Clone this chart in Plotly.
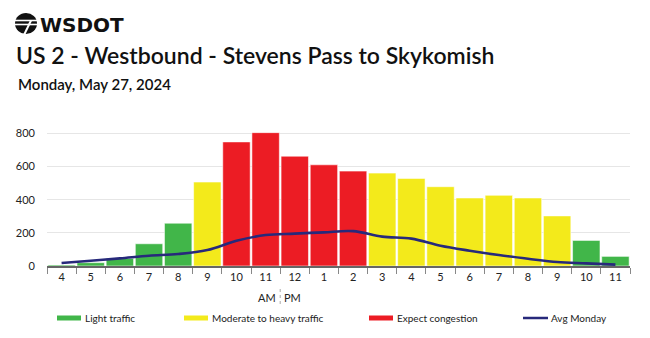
import plotly.graph_objects as go

hours = ["4", "5", "6", "7", "8", "9", "10", "11", "12", "1", "2", "3", "4", "5", "6", "7", "8", "9", "10", "11"]
volume = [6, 20, 46, 134, 258, 506, 748, 804, 662, 610, 572, 560, 528, 478, 410, 426, 410, 302, 154, 58]
level = ["L", "L", "L", "L", "L", "M", "H", "H", "H", "H", "H", "M", "M", "M", "M", "M", "M", "M", "L", "L"]
avg_monday = [18, 32, 46, 62, 72, 96, 152, 187, 195, 203, 210, 177, 165, 122, 92, 66, 44, 24, 16, 8]
y_ticks = [0, 200, 400, 600, 800]

colors = {"L": "#41b649", "M": "#f3ea1b", "H": "#ec1c24"}
names = {"L": "Light traffic", "M": "Moderate to heavy traffic", "H": "Expect congestion"}
line_color = "#27297b"

W, H = 650, 338
L, R, T, B = 47, 630, 125, 266
xs = list(range(len(hours)))

def px(x):
    return (x - L) / (R - L)

def py(y):
    return (B - y) / (B - T)

fig = go.Figure()
for k in ["L", "M", "H"]:
    fig.add_trace(go.Bar(
        x=[x for x, lv in zip(xs, level) if lv == k],
        y=[v for v, lv in zip(volume, level) if lv == k],
        marker=dict(color=colors[k], line=dict(color="rgba(255,255,255,0.55)", width=1)),
        width=0.94, name=names[k], showlegend=False, hoverinfo="skip"))

fig.add_trace(go.Scatter(x=xs, y=avg_monday, mode="lines",
                         line=dict(color=line_color, width=2.6, shape="spline", smoothing=1.0),
                         name="Avg Monday", showlegend=False))

font = "Lato, 'Open Sans', sans-serif"
ann = []
shapes = []
# Title and subtitle
ann.append(dict(x=px(14), y=py(55), xref="paper", yref="paper", xanchor="left", yanchor="middle",
                text="US 2 - Westbound - Stevens Pass to Skykomish", showarrow=False,
                font=dict(family=font, size=23, color="#111", weight=600)))
ann.append(dict(x=px(16), y=py(84), xref="paper", yref="paper", xanchor="left", yanchor="middle",
                text="Monday, May 27, 2024", showarrow=False,
                font=dict(family=font, size=15, color="#111", weight=600)))
# Logo text
ann.append(dict(x=px(38), y=py(25), xref="paper", yref="paper", xanchor="left", yanchor="middle",
                text="<b>WSDOT</b>", showarrow=False,
                font=dict(family="'DejaVu Sans', sans-serif", size=20, color="#111")))
# Logo icon
shapes.append(dict(type="circle", xref="paper", yref="paper", x0=px(15), x1=px(37), y0=py(34), y1=py(13),
                   fillcolor="#111", line=dict(width=0)))
for yy in [20.5, 24.5]:
    shapes.append(dict(type="line", xref="paper", yref="paper", x0=px(14), x1=px(38), y0=py(yy), y1=py(yy),
                       line=dict(color="white", width=1.6)))
shapes.append(dict(type="line", xref="paper", yref="paper", x0=px(31), x1=px(24), y0=py(20.5), y1=py(35),
                   line=dict(color="white", width=2)))

# AM | PM
ann.append(dict(x=7.5, y=py(297), xref="x", yref="paper", xanchor="right", yanchor="middle",
                text="AM", showarrow=False, xshift=-2, font=dict(family=font, size=11, color="#222")))
ann.append(dict(x=7.5, y=py(297), xref="x", yref="paper", xanchor="left", yanchor="middle",
                text="PM", showarrow=False, xshift=2, font=dict(family=font, size=11, color="#222")))
shapes.append(dict(type="line", xref="x", yref="paper", x0=7.5, x1=7.5, y0=py(289), y1=py(305),
                   line=dict(color="#aaa", width=1, dash="dot")))

# Legend
leg = [("bar", colors["L"], names["L"], 57), ("bar", colors["M"], names["M"], 184),
       ("bar", colors["H"], names["H"], 369), ("line", line_color, "Avg Monday", 523)]
for kind, c, label, x0 in leg:
    if kind == "bar":
        shapes.append(dict(type="rect", xref="paper", yref="paper", x0=px(x0), x1=px(x0 + 24),
                           y0=py(320.5), y1=py(315.5), fillcolor=c, line=dict(width=0)))
    else:
        shapes.append(dict(type="line", xref="paper", yref="paper", x0=px(x0), x1=px(x0 + 25),
                           y0=py(318), y1=py(318), line=dict(color=c, width=2.5)))
    ann.append(dict(x=px(x0 + 26), y=py(318), xref="paper", yref="paper", xanchor="left", yanchor="middle",
                    text=label, showarrow=False, font=dict(family=font, size=10, color="#222")))

fig.update_layout(
    width=W, height=H, margin=dict(l=L, r=W - R, t=T, b=H - B),
    paper_bgcolor="white", plot_bgcolor="white", barmode="overlay",
    showlegend=False, annotations=ann, shapes=shapes,
    font=dict(family=font, size=11, color="#222"),
    xaxis=dict(range=[-0.5, 19.5], tickvals=xs, ticktext=hours, ticks="", showgrid=False,
               showline=True, linecolor="#666", linewidth=1.5, fixedrange=True,
               tickfont=dict(size=11, color="#222"),
               minor=dict(tickvals=[i - 0.5 for i in range(21)], ticks="outside", ticklen=6,
                          tickcolor="#888", tickwidth=1, showgrid=False)),
    yaxis=dict(range=[0, 850], tickvals=y_ticks, showgrid=True, gridcolor="#e6e6e6", gridwidth=1,
               zeroline=False, showline=False, ticks="", tickfont=dict(size=11, color="#222"),
               ticklabelstandoff=11, fixedrange=True),
)
fig.write_html("out.html")
